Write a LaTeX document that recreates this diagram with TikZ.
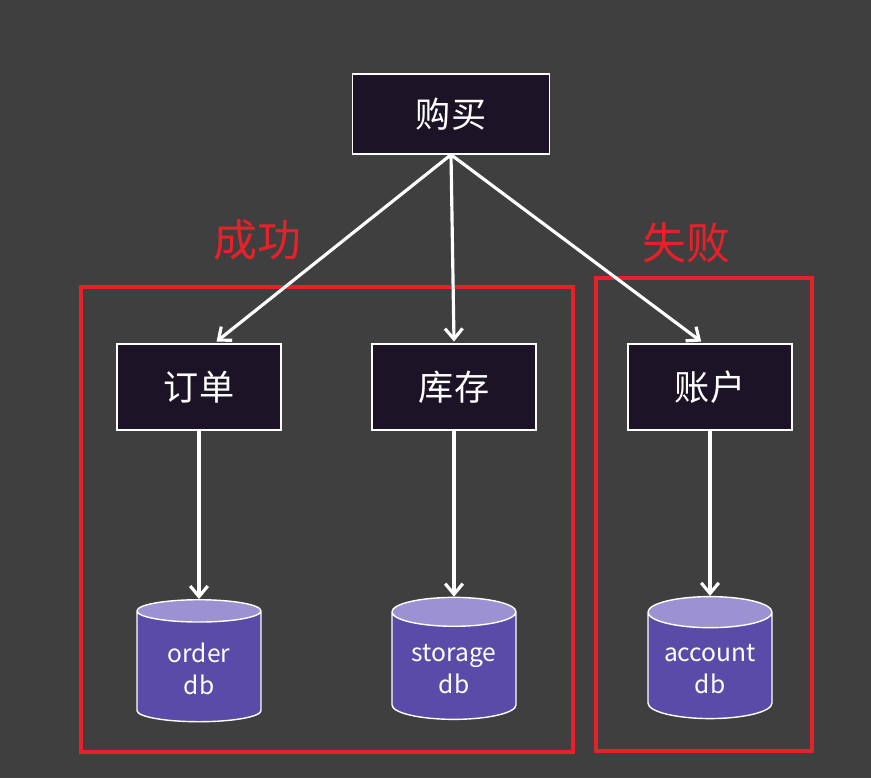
\documentclass[tikz,border=0pt]{standalone}
\usepackage{fontspec}
\setmainfont{Noto Sans CJK SC}
\usetikzlibrary{shapes.geometric,arrows.meta,positioning}
\definecolor{bg}{HTML}{3F3F3F}
\definecolor{boxfill}{HTML}{1C1426}
\definecolor{dbbody}{HTML}{5B4BA9}
\definecolor{dbtop}{HTML}{9C91D2}
\definecolor{myred}{HTML}{E8202A}
\tikzset{
  svc/.style={draw=white,fill=boxfill,thick,text=white,minimum width=3.28cm,minimum height=1.72cm,font=\fontsize{20}{22}\selectfont},
  db/.style={cylinder,shape border rotate=90,aspect=0.3,draw=white,thick,cylinder uses custom fill,cylinder body fill=dbbody,cylinder end fill=dbtop,text=white,minimum width=2.48cm,minimum height=2.44cm,align=center,font=\fontsize{14}{18}\selectfont},
  flow/.style={draw=white,line width=1.8pt,-{Straight Barb[length=6pt,width=10pt]}},
  zone/.style={draw=myred,line width=2pt},
  tag/.style={text=myred,font=\fontsize{25}{27}\selectfont}
}
\begin{document}
\begin{tikzpicture}[x=0.02cm,y=-0.02cm]
  \fill[bg] (0,0) rectangle (871,778);
  \useasboundingbox (0,0) rectangle (871,778);
  \draw[zone] (81,287) rectangle (573,752);
  \draw[zone] (596,278) rectangle (812,751);
  \node[tag] (ok) at (257,240) {成功};
  \node[tag] (fail) at (686,243) {失败};
  \node[svc,minimum width=3.94cm,minimum height=1.6cm] (buy) at (451,114) {购买};
  \node[svc] (order) at (199,387) {订单};
  \node[svc] (storage) at (454,387) {库存};
  \node[svc] (account) at (710,387) {账户};
  \node[db] (orderdb) at (199,669) {order\\db};
  \node[db] (storagedb) at (454,669) {storage\\db};
  \node[db] (accountdb) at (710,669) {account\\db};
  \draw[flow] (buy.south) -- ([xshift=10pt,yshift=1pt]order.north);
  \draw[flow] (buy.south) -- ([yshift=1pt]storage.north);
  \draw[flow] (buy.south) -- ([xshift=-5pt,yshift=1pt]account.north);
  \draw[flow] (order.south) -- (orderdb.top);
  \draw[flow] (storage.south) -- (storagedb.top);
  \draw[flow] (account.south) -- (accountdb.top);
\end{tikzpicture}
\end{document}
